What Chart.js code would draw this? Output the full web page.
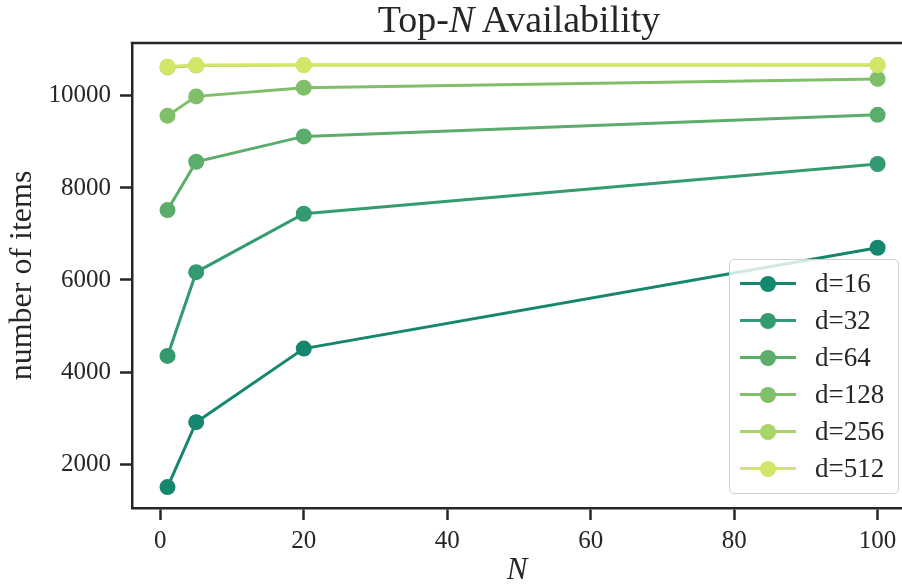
<!DOCTYPE html>
<html>
<head>
  <meta charset="utf-8">
  <title>Top-N Availability</title>
  <script src="https://cdn.jsdelivr.net/npm/chart.js"></script>
  <style>
    * {
      margin: 0;
      padding: 0;
    }
    body {
      background: #fff;
      overflow: hidden;
      font-family: 'Liberation Serif', serif;
      color: #262626;
    }
    #wrap {
      position: relative;
      width: 902px;
      height: 584px;
    }
    #title {
      position: absolute;
      left: 0;
      width: 1038px;
      top: -2px;
      text-align: center;
      font-size: 38px;
      line-height: 42px;
    }
    #legend {
      position: absolute;
      left: 729px;
      top: 259px;
      width: 168px;
      height: 233px;
      border: 1.5px solid #d0d0d0;
      border-radius: 5px;
      background: rgba(255, 255, 255, 0.8);
    }
    .item {
      position: absolute;
      left: 0;
      height: 30px;
      width: 168px;
    }
    .item .ln {
      position: absolute;
      left: 10px;
      top: 13px;
      width: 56px;
      height: 3px;
    }
    .item .dot {
      position: absolute;
      left: 30px;
      top: 6.5px;
      width: 16px;
      height: 16px;
      border-radius: 50%;
    }
    .item .txt {
      position: absolute;
      left: 85px;
      top: -1px;
      font-size: 27px;
      line-height: 30px;
    }
  </style>
</head>
<body>
<div id="wrap">
  <canvas id="chart" width="902" height="584"></canvas>
  <div id="title">Top-<i>N</i> Availability</div>
  <div id="legend"></div>
</div>
<script>
  // values
  const topN = [1, 5, 20, 100];
  const dims = ['d=16', 'd=32', 'd=64', 'd=128', 'd=256', 'd=512'];
  const d16 = [1500, 2910, 4510, 6700];
  const d32 = [4350, 6170, 7440, 8520];
  const d64 = [7520, 8570, 9120, 9590];
  const d128 = [9570, 9990, 10180, 10370];
  const d256 = [10620, 10660, 10670, 10670];
  const d512 = [10640, 10670, 10670, 10670];
  const seriesValues = [d16, d32, d64, d128, d256, d512];
  const xTicks = [0, 20, 40, 60, 80, 100];
  const yTicks = [2000, 4000, 6000, 8000, 10000];

  const colors = ['#16876f', '#349a70', '#5aad6b', '#80bf6a', '#a8d468', '#d3e668'];
  const ink = '#262626';

  const datasets = dims.map(function (name, i) {
    return {
      label: name,
      data: topN.map(function (n, j) { return { x: n, y: seriesValues[i][j] }; }),
      borderColor: colors[i],
      backgroundColor: colors[i],
      borderWidth: 3,
      pointRadius: 8,
      pointBorderWidth: 0,
      pointBackgroundColor: colors[i],
      tension: 0,
      clip: false,
      order: dims.length - i
    };
  });

  // top spine
  const topSpine = {
    id: 'topSpine',
    afterDraw(chart) {
      const a = chart.chartArea;
      const c = chart.ctx;
      c.save();
      c.strokeStyle = ink;
      c.lineWidth = 2.5;
      c.beginPath();
      c.moveTo(a.left - 1.25, a.top);
      c.lineTo(chart.width, a.top);
      c.stroke();
      c.restore();
    }
  };

  const ctx = document.getElementById('chart').getContext('2d');
  new Chart(ctx, {
    type: 'line',
    data: { datasets: datasets },
    plugins: [topSpine],
    options: {
      responsive: false,
      animation: false,
      devicePixelRatio: 1,
      layout: {
        autoPadding: false,
        padding: { top: 43, right: 0, bottom: 0, left: 0 }
      },
      plugins: {
        legend: { display: false },
        title: { display: false },
        tooltip: { enabled: false }
      },
      scales: {
        x: {
          type: 'linear',
          min: -3.95,
          max: 103.4,
          afterFit(scale) {
            scale.height = 76;
            scale.paddingLeft = 0;
            scale.paddingRight = 0;
          },
          afterBuildTicks(scale) {
            scale.ticks = xTicks.map(function (v) { return { value: v }; });
          },
          ticks: {
            color: ink,
            padding: 6,
            maxRotation: 0,
            font: { family: 'Liberation Serif', size: 25 }
          },
          grid: {
            drawOnChartArea: false,
            drawTicks: true,
            tickLength: 12,
            tickWidth: 2.5,
            tickColor: ink
          },
          border: { display: true, color: ink, width: 2.5 },
          title: {
            display: true,
            text: 'N',
            color: ink,
            padding: { top: 0, bottom: -5 },
            font: { family: 'Liberation Serif', size: 31, style: 'italic' }
          }
        },
        y: {
          type: 'linear',
          min: 1045,
          max: 11150,
          afterFit(scale) {
            scale.width = 132;
          },
          afterBuildTicks(scale) {
            scale.ticks = yTicks.map(function (v) { return { value: v }; });
          },
          ticks: {
            color: ink,
            padding: 9,
            font: { family: 'Liberation Serif', size: 25 },
            callback: function (v) { return String(v); }
          },
          grid: {
            drawOnChartArea: false,
            drawTicks: true,
            tickLength: 12,
            tickWidth: 2.5,
            tickColor: ink
          },
          border: { display: true, color: ink, width: 2.5 },
          title: {
            display: true,
            text: 'number of items',
            color: ink,
            padding: { top: 3, bottom: 0 },
            font: { family: 'Liberation Serif', size: 32 }
          }
        }
      }
    }
  });

  // legend built from the same arrays
  const legend = document.getElementById('legend');
  dims.forEach(function (name, i) {
    const row = document.createElement('div');
    row.className = 'item';
    row.style.top = (9 + i * 37) + 'px';
    row.innerHTML = '<div class="ln" style="background:' + colors[i] + '"></div>' +
      '<div class="dot" style="background:' + colors[i] + '"></div>' +
      '<div class="txt">' + name + '</div>';
    legend.appendChild(row);
  });
</script>
</body>
</html>
